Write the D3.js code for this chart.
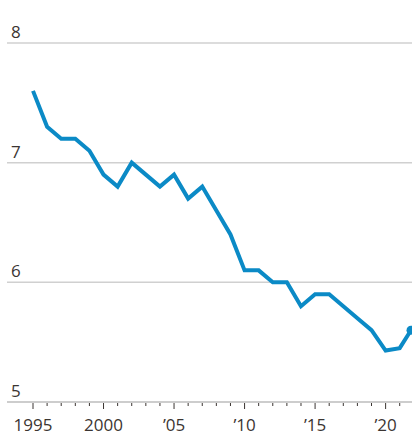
<!DOCTYPE html>
<html>
<head>
<meta charset="utf-8">
<script src="https://cdn.jsdelivr.net/npm/d3@7"></script>
<style>
  html, body { margin: 0; padding: 0; background: #ffffff; }
  svg { display: block; }
  text { font-family: "Open Sans", sans-serif; fill: #3b3532; }
</style>
</head>
<body>
<script>
// Data
const years = [1995, 1996, 1997, 1998, 1999, 2000, 2001, 2002, 2003, 2004, 2005, 2006, 2007, 2008, 2009, 2010, 2011, 2012, 2013, 2014, 2015, 2016, 2017, 2018, 2019, 2020, 2021, 2021.8];
const values = [7.6, 7.3, 7.2, 7.2, 7.1, 6.9, 6.8, 7.0, 6.9, 6.8, 6.9, 6.7, 6.8, 6.6, 6.4, 6.1, 6.1, 6.0, 6.0, 5.8, 5.9, 5.9, 5.8, 5.7, 5.6, 5.43, 5.45, 5.6];
const yTicks = [5, 6, 7, 8];
const xMajorTicks = [1995, 2000, 2005, 2010, 2015, 2020];
const xTickLabels = ["1995", "2000", "\u201905", "\u201910", "\u201915", "\u201920"];
const xMinorTicks = d3.range(1995, 2022);

const W = 412, H = 444;
const svg = d3.select("body").append("svg").attr("width", W).attr("height", H);

const x = d3.scaleLinear().domain([1995, 2021.8]).range([33, 411]);
const y = d3.scaleLinear().domain([5, 8]).range([402, 43]);

// Gridlines
svg.append("g").selectAll("line").data(yTicks).join("line")
  .attr("x1", 7).attr("x2", W)
  .attr("y1", d => y(d)).attr("y2", d => y(d))
  .attr("stroke", d => d === 5 ? "#bdbdbd" : "#d0d0d0")
  .attr("stroke-width", 1.5);

// Y labels
svg.append("g").selectAll("text").data(yTicks).join("text")
  .attr("x", 11).attr("y", d => y(d) - 5)
  .attr("font-size", 17)
  .text(d => d);

// X ticks
svg.append("g").selectAll("line").data(xMinorTicks).join("line")
  .attr("x1", d => x(d)).attr("x2", d => x(d))
  .attr("y1", y(5) + 1).attr("y2", d => xMajorTicks.includes(d) ? y(5) + 7 : y(5) + 4)
  .attr("stroke", "#3b3532").attr("stroke-width", 1);

svg.append("g").selectAll("text").data(xMajorTicks).join("text")
  .attr("x", d => x(d)).attr("y", 431)
  .attr("text-anchor", "middle")
  .attr("font-size", 17)
  .text((d, i) => xTickLabels[i]);

// Line
const pts = years.map((yr, i) => [yr, values[i]]);
svg.append("path").datum(pts)
  .attr("fill", "none")
  .attr("stroke", "#0b8ac6")
  .attr("stroke-width", 4)
  .attr("stroke-linejoin", "miter")
  .attr("d", d3.line().x(d => x(d[0])).y(d => y(d[1])));

// End dot
const last = pts[pts.length - 1];
svg.append("circle")
  .attr("cx", x(last[0])).attr("cy", y(last[1])).attr("r", 4.5)
  .attr("fill", "#0b8ac6");
</script>
</body>
</html>
